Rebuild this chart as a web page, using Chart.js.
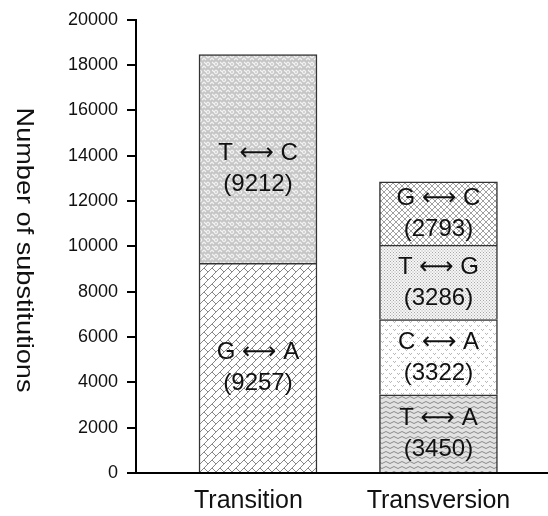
<!DOCTYPE html>
<html>
<head>
<meta charset="utf-8">
<script src="https://cdn.jsdelivr.net/npm/chart.js@4"></script>
<style>
html,body{margin:0;padding:0;background:#fff;}
#wrap{width:548px;height:516px;}
</style>
</head>
<body>
<div id="wrap"><canvas id="c" width="548" height="516"></canvas></div>
<script>
const categories = ['Transition', 'Transversion'];
const substitutions = ['G ⟷ A', 'T ⟷ C', 'T ⟷ A', 'C ⟷ A', 'T ⟷ G', 'G ⟷ C'];
const counts = [9257, 9212, 3450, 3322, 3286, 2793];
const groupOf = [0, 0, 1, 1, 1, 1];
const yTicks = [0, 2000, 4000, 6000, 8000, 10000, 12000, 14000, 16000, 18000, 20000];
const yTitle = 'Number of substitutions';

const FONT = '"Liberation Sans", Arial, "DejaVu Sans", sans-serif';

function tile(w, h, draw) {
  const c = document.createElement('canvas');
  c.width = w; c.height = h;
  const g = c.getContext('2d');
  draw(g, w, h);
  return g.createPattern(c, 'repeat');
}

const patterns = [
  // G<->A : diagonal bricks
  tile(16, 16, (g) => {
    g.fillStyle = '#ffffff'; g.fillRect(0, 0, 16, 16);
    g.strokeStyle = '#888888'; g.lineWidth = 1;
    for (let ox = -16; ox <= 16; ox += 16) for (let oy = -16; oy <= 16; oy += 16) {
      g.beginPath();
      for (let c = 0; c <= 32; c += 8) { g.moveTo(c + ox, 0 + oy); g.lineTo(c - 16 + ox, 16 + oy); }
      [[4, 4], [12, -4], [-4, 12]].forEach(([x0, y0]) => { g.moveTo(x0 + ox, y0 + oy); g.lineTo(x0 + 4 + ox, y0 + 4 + oy); });
      [[4, 12], [12, 4]].forEach(([x0, y0]) => { g.moveTo(x0 + ox, y0 + oy); g.lineTo(x0 + 4 + ox, y0 + 4 + oy); });
      g.stroke();
    }
  }),
  // T<->C : grey weave
  tile(8, 8, (g) => {
    g.fillStyle = '#c6c6c6'; g.fillRect(0, 0, 8, 8);
    g.strokeStyle = '#f2f2f2'; g.lineWidth = 1.2;
    g.beginPath();
    g.moveTo(0, 2); g.lineTo(2, 0);
    g.moveTo(2, 4); g.lineTo(4, 2); g.lineTo(6, 4);
    g.moveTo(6, 0); g.lineTo(8, 2);
    g.moveTo(0, 6); g.lineTo(2, 8);
    g.moveTo(4, 6); g.lineTo(6, 8);
    g.moveTo(6, 8); g.lineTo(8, 6);
    g.stroke();
  }),
  // T<->A : wavy lines
  tile(8, 5, (g) => {
    g.fillStyle = '#e2e2e2'; g.fillRect(0, 0, 8, 5);
    g.strokeStyle = '#8a8a8a'; g.lineWidth = 1;
    g.beginPath();
    g.moveTo(0, 2.5); g.quadraticCurveTo(2, 0.5, 4, 2.5); g.quadraticCurveTo(6, 4.5, 8, 2.5);
    g.stroke();
  }),
  // C<->A : sparse dots
  tile(8, 8, (g) => {
    g.fillStyle = '#ffffff'; g.fillRect(0, 0, 8, 8);
    g.fillStyle = '#b8b8b8';
    g.fillRect(1, 1, 1, 1); g.fillRect(2, 2, 1, 1); g.fillRect(3, 1, 1, 1);
    g.fillRect(5, 5, 1, 1); g.fillRect(6, 6, 1, 1); g.fillRect(7, 5, 1, 1);
  }),
  // T<->G : fine dots
  tile(3, 3, (g) => {
    g.fillStyle = '#f6f6f6'; g.fillRect(0, 0, 3, 3);
    g.fillStyle = '#a8a8a8';
    g.fillRect(0, 0, 1, 1); g.fillRect(1.5, 1.5, 1, 1);
  }),
  // G<->C : diamond crosshatch
  tile(6, 6, (g) => {
    g.fillStyle = '#ffffff'; g.fillRect(0, 0, 6, 6);
    g.strokeStyle = '#a0a0a0'; g.lineWidth = 1;
    g.beginPath();
    g.moveTo(0, 0); g.lineTo(6, 6);
    g.moveTo(6, 0); g.lineTo(0, 6);
    g.stroke();
  })
];

const datasets = substitutions.map((name, i) => ({
  label: name,
  data: [{ x: groupOf[i], y: counts[i] }],
  backgroundColor: patterns[i],
  borderColor: '#333333',
  borderWidth: 1.5,
  barThickness: 118
}));

const labelPlugin = {
  id: 'segLabels',
  afterDatasetsDraw(chart, args, opts) {
    const ctx = chart.ctx;
    const nudge = (opts && opts.nudge) || {};
    ctx.save();
    ctx.font = '24px ' + FONT;
    ctx.fillStyle = '#111';
    ctx.textAlign = 'center';
    ctx.textBaseline = 'middle';
    chart.data.datasets.forEach((ds, i) => {
      const meta = chart.getDatasetMeta(i);
      const el = meta.data[0];
      if (!el) return;
      const cx = el.x;
      const cy = (el.y + el.base) / 2 + (nudge[i] || 0);
      ctx.fillText(substitutions[i], cx, cy - 15);
      ctx.fillText('(' + counts[i] + ')', cx, cy + 16);
    });
    ctx.restore();
  }
};

const titlePlugin = {
  id: 'yTitleCW',
  afterDraw(chart) {
    const ctx = chart.ctx;
    ctx.save();
    ctx.translate(17, 250);
    ctx.rotate(Math.PI / 2);
    ctx.scale(1.13, 1);
    ctx.font = '24px ' + FONT;
    ctx.fillStyle = '#111';
    ctx.textAlign = 'center';
    ctx.textBaseline = 'alphabetic';
    ctx.fillText(yTitle, 0, 0);
    ctx.restore();
  }
};

const xLabelShift = [-0.053, 0];

new Chart(document.getElementById('c'), {
  type: 'bar',
  data: { datasets },
  options: {
    responsive: false,
    animation: false,
    devicePixelRatio: 1,
    layout: { padding: { top: 18.2, right: 0, left: 0, bottom: 0 } },
    plugins: {
      legend: { display: false },
      tooltip: { enabled: false },
      segLabels: { nudge: { 1: 10 } }
    },
    scales: {
      x: {
        type: 'linear',
        offset: false,
        stacked: true,
        min: -0.676,
        max: 1.607,
        afterBuildTicks: (s) => { s.ticks = categories.map((_, i) => ({ value: i + xLabelShift[i] })); },
        afterFit: (s) => { s.height = 43; },
        ticks: {
          callback: (v) => categories[Math.round(v)] ?? '',
          font: { size: 25, family: FONT },
          color: '#111',
          padding: 13,
          autoSkip: false,
          maxRotation: 0
        },
        grid: { drawOnChartArea: false, drawTicks: false, offset: false },
        border: { display: true, color: '#000', width: 2 }
      },
      y: {
        stacked: true,
        min: 0,
        max: 20000,
        afterBuildTicks: (s) => { s.ticks = yTicks.map(v => ({ value: v })); },
        afterFit: (s) => { s.width = 136; },
        ticks: {
          callback: (v) => String(v),
          font: { size: 18, family: FONT },
          color: '#111',
          padding: 9
        },
        grid: { drawOnChartArea: false, drawTicks: true, tickLength: 9, color: '#000', lineWidth: 2 },
        border: { display: true, color: '#000', width: 2 }
      }
    }
  },
  plugins: [labelPlugin, titlePlugin]
});
</script>
</body>
</html>
